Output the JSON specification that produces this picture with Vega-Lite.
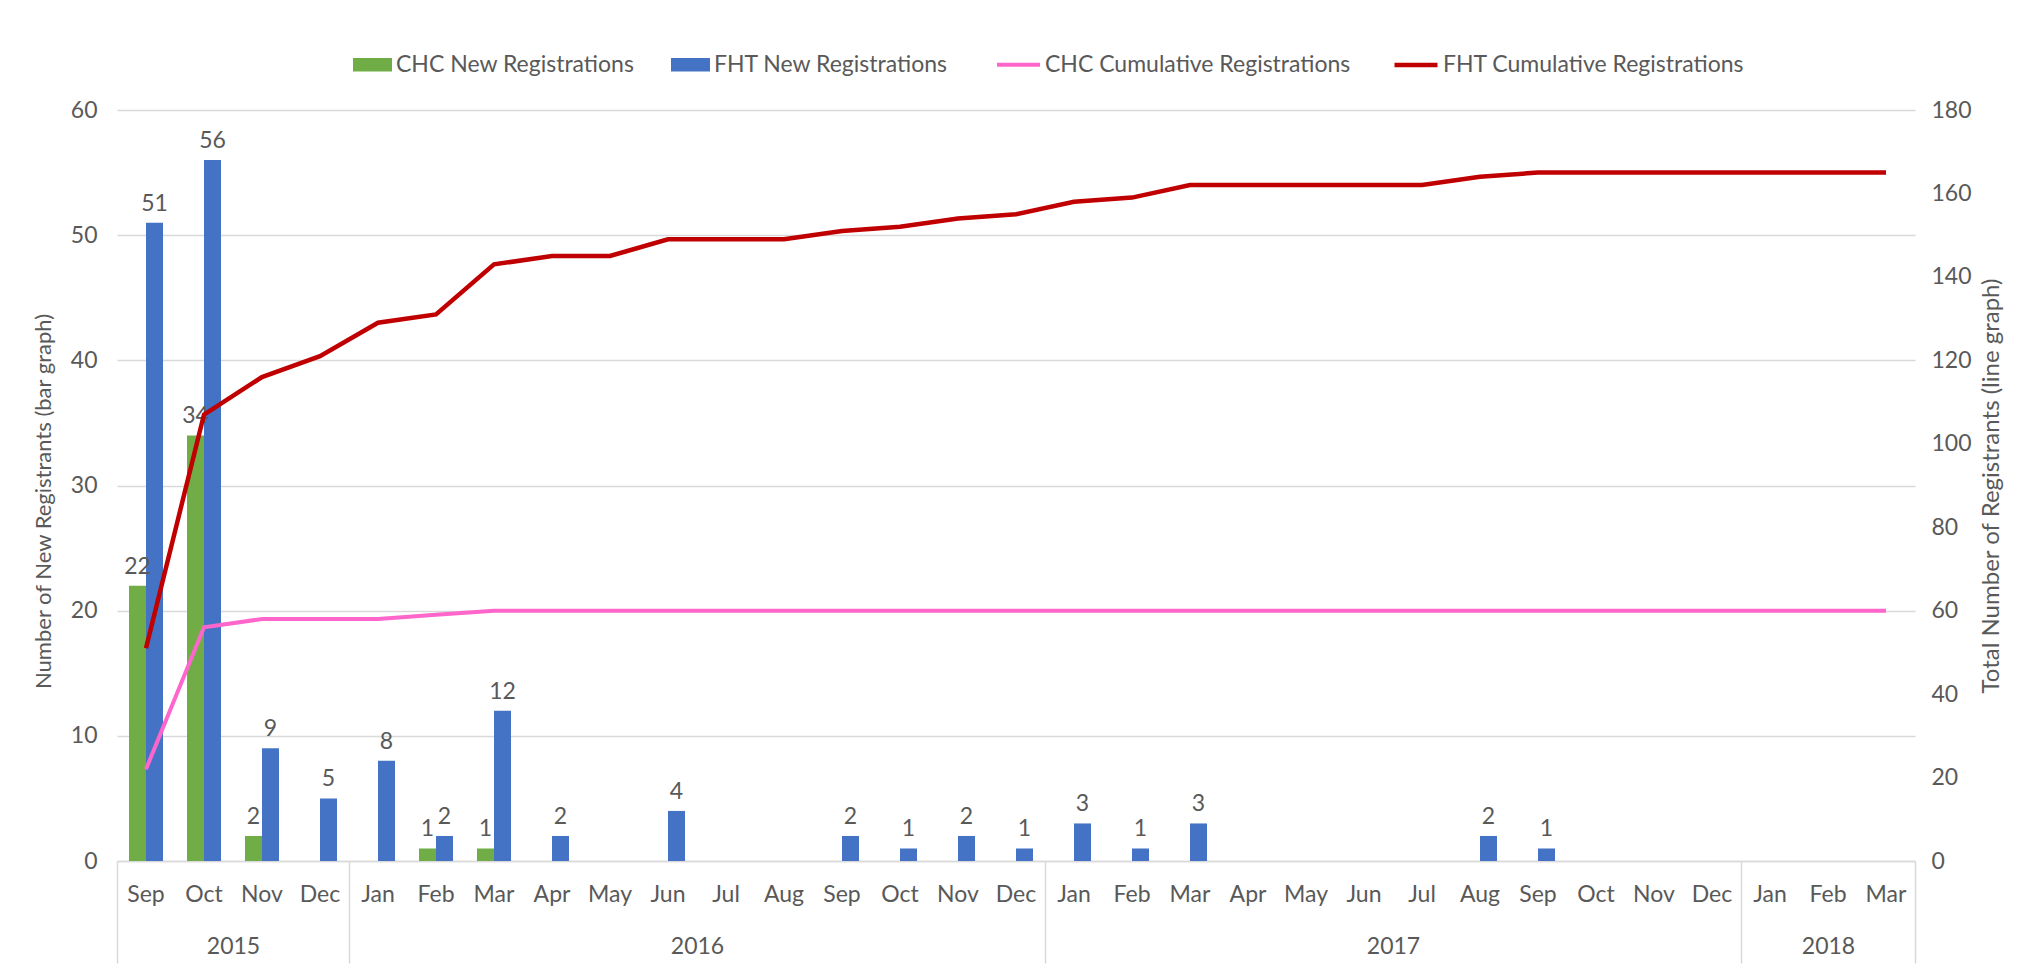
{
  "$schema": "https://vega.github.io/schema/vega-lite/v6.json",
  "width": 1798,
  "height": 751,
  "autosize": {"type": "none"},
  "padding": {"left": 117, "top": 110, "right": 118, "bottom": 107},
  "background": "white",
  "config": {
    "font": "Lato",
    "view": {"stroke": null},
    "axis": {"labelFont": "Lato", "titleFont": "Lato", "labelColor": "#595959", "titleColor": "#595959", "titleFontWeight": "normal"},
    "legend": {"labelFont": "Lato"}
  },
  "data": {
    "values": [
      {"p": "Sep 2015", "chc": 22, "fht": 51, "chcCum": 22, "fhtCum": 51},
      {"p": "Oct 2015", "chc": 34, "fht": 56, "chcCum": 56, "fhtCum": 107},
      {"p": "Nov 2015", "chc": 2, "fht": 9, "chcCum": 58, "fhtCum": 116},
      {"p": "Dec 2015", "chc": 0, "fht": 5, "chcCum": 58, "fhtCum": 121},
      {"p": "Jan 2016", "chc": 0, "fht": 8, "chcCum": 58, "fhtCum": 129},
      {"p": "Feb 2016", "chc": 1, "fht": 2, "chcCum": 59, "fhtCum": 131},
      {"p": "Mar 2016", "chc": 1, "fht": 12, "chcCum": 60, "fhtCum": 143},
      {"p": "Apr 2016", "chc": 0, "fht": 2, "chcCum": 60, "fhtCum": 145},
      {"p": "May 2016", "chc": 0, "fht": 0, "chcCum": 60, "fhtCum": 145},
      {"p": "Jun 2016", "chc": 0, "fht": 4, "chcCum": 60, "fhtCum": 149},
      {"p": "Jul 2016", "chc": 0, "fht": 0, "chcCum": 60, "fhtCum": 149},
      {"p": "Aug 2016", "chc": 0, "fht": 0, "chcCum": 60, "fhtCum": 149},
      {"p": "Sep 2016", "chc": 0, "fht": 2, "chcCum": 60, "fhtCum": 151},
      {"p": "Oct 2016", "chc": 0, "fht": 1, "chcCum": 60, "fhtCum": 152},
      {"p": "Nov 2016", "chc": 0, "fht": 2, "chcCum": 60, "fhtCum": 154},
      {"p": "Dec 2016", "chc": 0, "fht": 1, "chcCum": 60, "fhtCum": 155},
      {"p": "Jan 2017", "chc": 0, "fht": 3, "chcCum": 60, "fhtCum": 158},
      {"p": "Feb 2017", "chc": 0, "fht": 1, "chcCum": 60, "fhtCum": 159},
      {"p": "Mar 2017", "chc": 0, "fht": 3, "chcCum": 60, "fhtCum": 162},
      {"p": "Apr 2017", "chc": 0, "fht": 0, "chcCum": 60, "fhtCum": 162},
      {"p": "May 2017", "chc": 0, "fht": 0, "chcCum": 60, "fhtCum": 162},
      {"p": "Jun 2017", "chc": 0, "fht": 0, "chcCum": 60, "fhtCum": 162},
      {"p": "Jul 2017", "chc": 0, "fht": 0, "chcCum": 60, "fhtCum": 162},
      {"p": "Aug 2017", "chc": 0, "fht": 2, "chcCum": 60, "fhtCum": 164},
      {"p": "Sep 2017", "chc": 0, "fht": 1, "chcCum": 60, "fhtCum": 165},
      {"p": "Oct 2017", "chc": 0, "fht": 0, "chcCum": 60, "fhtCum": 165},
      {"p": "Nov 2017", "chc": 0, "fht": 0, "chcCum": 60, "fhtCum": 165},
      {"p": "Dec 2017", "chc": 0, "fht": 0, "chcCum": 60, "fhtCum": 165},
      {"p": "Jan 2018", "chc": 0, "fht": 0, "chcCum": 60, "fhtCum": 165},
      {"p": "Feb 2018", "chc": 0, "fht": 0, "chcCum": 60, "fhtCum": 165},
      {"p": "Mar 2018", "chc": 0, "fht": 0, "chcCum": 60, "fhtCum": 165}
    ]
  },
  "layer": [
    {
      "transform": [{"fold": ["chc", "fht"], "as": ["series", "value"]}],
      "mark": {"type": "bar"},
      "encoding": {
        "x": {
          "field": "p", "type": "ordinal", "sort": null,
          "scale": {"type": "band", "paddingInner": 0.414, "paddingOuter": 0.207},
          "axis": {
            "orient": "bottom", "title": null, "labelAngle": 0, "labelExpr": "slice(datum.label, 0, 3)",
            "ticks": false, "domain": true, "domainColor": "#D9D9D9", "domainWidth": 1.5,
            "grid": false, "labelFontSize": 23, "labelPadding": 22
          }
        },
        "xOffset": {"field": "series", "scale": {"domain": ["chc", "fht"]}},
        "y": {
          "field": "value", "type": "quantitative",
          "scale": {"domain": [0, 60], "nice": false},
          "axis": {
            "orient": "left",
            "title": "Number of New Registrants (bar graph)",
            "values": [0, 10, 20, 30, 40, 50, 60],
            "grid": true, "gridColor": "#D9D9D9", "gridWidth": 1.5,
            "ticks": false, "domain": false,
            "labelFontSize": 23, "labelPadding": 20,
            "titleFontSize": 22, "titlePadding": 15, "titleY": 391
          }
        },
        "fill": {
          "field": "series", "type": "nominal",
          "scale": {"domain": ["chc", "fht"], "range": ["#70AD47", "#4472C4"]},
          "legend": {
            "orient": "none", "legendX": 236, "legendY": -65,
            "direction": "horizontal", "title": null,
            "labelFontSize": 23, "labelColor": "#595959", "labelOffset": 4, "labelLimit": 500,
            "columnPadding": 36, "symbolType": "M-1,-0.34L1,-0.34L1,0.34L-1,0.34Z", "symbolSize": 1521, "symbolStrokeWidth": 0,
            "labelExpr": "datum.value == 'chc' ? 'CHC New Registrations' : 'FHT New Registrations'"
          }
        }
      }
    },
    {
      "transform": [{"fold": ["chc", "fht"], "as": ["series", "value"]}],
      "mark": {"type": "text", "baseline": "bottom", "dy": -7, "fontSize": 23, "color": "#595959"},
      "encoding": {
        "x": {
          "field": "p", "type": "ordinal", "sort": null,
          "scale": {"type": "band", "paddingInner": 0.414, "paddingOuter": 0.207},
          "axis": null
        },
        "xOffset": {"field": "series", "scale": {"domain": ["chc", "fht"]}},
        "y": {"field": "value", "type": "quantitative", "scale": {"domain": [0, 60], "nice": false}, "axis": null},
        "text": {"condition": {"test": "datum.value > 0", "field": "value", "type": "quantitative"}, "value": ""}
      }
    },
    {
      "transform": [{"fold": ["chcCum", "fhtCum"], "as": ["series", "value"]}],
      "mark": {"type": "line"},
      "encoding": {
        "x": {
          "field": "p", "type": "ordinal", "sort": null,
          "scale": {"type": "band", "paddingInner": 0.414, "paddingOuter": 0.207},
          "axis": null
        },
        "y": {
          "field": "value", "type": "quantitative",
          "scale": {"domain": [0, 180], "nice": false},
          "axis": {
            "orient": "right",
            "title": "Total Number of Registrants (line graph)",
            "values": [0, 20, 40, 60, 80, 100, 120, 140, 160, 180],
            "grid": false, "ticks": false, "domain": false,
            "labelFontSize": 23, "labelPadding": 16,
            "titleFontSize": 24, "titlePadding": 32, "titleAngle": 270
          }
        },
        "stroke": {
          "field": "series", "type": "nominal",
          "scale": {"domain": ["chcCum", "fhtCum"], "range": ["#FF66CC", "#C00000"]},
          "legend": {
            "orient": "none", "legendX": 878, "legendY": -69,
            "direction": "horizontal", "title": null,
            "labelFontSize": 23, "labelColor": "#595959", "labelOffset": 3, "labelLimit": 500,
            "columnPadding": 34, "symbolType": "stroke", "symbolSize": 1849, "symbolStrokeWidth": 5,
            "labelExpr": "datum.value == 'chcCum' ? 'CHC Cumulative Registrations' : 'FHT Cumulative Registrations'"
          }
        },
        "strokeWidth": {"field": "series", "type": "nominal", "scale": {"domain": ["chcCum", "fhtCum"], "range": [4, 4.5]}, "legend": null}
      }
    },
    {
      "data": {"values": [{"b": 0}, {"b": 4}, {"b": 16}, {"b": 28}, {"b": 31}]},
      "mark": {"type": "point", "opacity": 0},
      "encoding": {
        "x": {
          "field": "b", "type": "quantitative",
          "scale": {"domain": [0, 31], "nice": false, "zero": false},
          "axis": {
            "orient": "bottom", "values": [0, 4, 16, 28, 31], "labels": false,
            "domain": false, "grid": false, "ticks": true, "tickSize": 102,
            "tickColor": "#D9D9D9", "tickWidth": 1.5, "title": null, "offset": 0
          }
        }
      }
    },
    {
      "data": {"values": [{"c": 2, "year": "2015"}, {"c": 10, "year": "2016"}, {"c": 22, "year": "2017"}, {"c": 29.5, "year": "2018"}]},
      "mark": {"type": "point", "opacity": 0},
      "encoding": {
        "x": {
          "field": "c", "type": "quantitative",
          "scale": {"domain": [0, 31], "nice": false, "zero": false},
          "axis": {
            "orient": "bottom", "values": [2, 10, 22, 29.5],
            "labelExpr": "datum.value == 2 ? '2015' : datum.value == 10 ? '2016' : datum.value == 22 ? '2017' : '2018'",
            "domain": false, "grid": false, "ticks": false, "title": null,
            "labelFontSize": 23, "labelPadding": 74, "offset": 0
          }
        }
      }
    }
  ],
  "resolve": {"scale": {"x": "independent", "y": "independent", "xOffset": "independent"}}
}
